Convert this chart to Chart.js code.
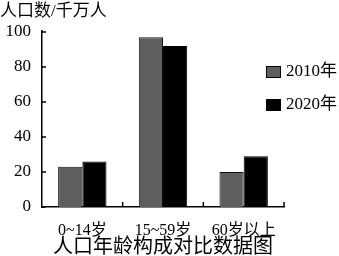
<!DOCTYPE html>
<html>
<head>
<meta charset="utf-8">
<script src="https://cdn.jsdelivr.net/npm/chart.js@4.4.1/dist/chart.umd.min.js"></script>
<style>
  html, body { margin: 0; padding: 0; background: #fff; }
</style>
</head>
<body>
<canvas id="main" width="339" height="256"></canvas>
<script>
const categories = ['0~14岁', '15~59岁', '60岁以上'];
const years = ['2010年', '2020年'];
const pop2010 = [23, 97, 20];
const pop2020 = [26, 92, 29];
const yTicks = [0, 20, 40, 60, 80, 100];

const FONT = "'Times New Roman', 'Liberation Serif', 'Noto Sans CJK SC', serif";

// small inward tick marks on both axes + legend placed inside the plot
const axisDecor = {
  id: 'axisDecor',
  afterDraw(chart) {
    const ctx = chart.ctx;
    const x = chart.scales.x, y = chart.scales.y;
    const area = chart.chartArea;
    ctx.save();
    ctx.strokeStyle = '#000';
    ctx.lineWidth = 1.5;
    ctx.beginPath();
    yTicks.forEach(v => {
      const py = y.getPixelForValue(v);
      ctx.moveTo(area.left, py);
      ctx.lineTo(area.left + 4, py);
    });
    // axis line pokes a little above the top tick
    ctx.moveTo(area.left, area.top);
    ctx.lineTo(area.left, area.top - 2);
    const half = (x.getPixelForValue(1) - x.getPixelForValue(0)) / 2;
    categories.forEach((c, i) => {
      const px = x.getPixelForValue(i) + half;
      ctx.moveTo(px, area.bottom);
      ctx.lineTo(px, area.bottom - 5);
    });
    ctx.stroke();

    // legend
    ctx.font = '17px ' + FONT;
    ctx.textBaseline = 'middle';
    ctx.textAlign = 'left';
    chart.data.datasets.forEach((ds, i) => {
      const bx = 266, by = 66 + i * 33;
      ctx.fillStyle = ds.backgroundColor;
      ctx.fillRect(bx, by, 15, 12);
      ctx.lineWidth = 1;
      ctx.strokeStyle = '#000';
      ctx.strokeRect(bx + 0.5, by + 0.5, 14, 11);
      ctx.fillStyle = '#000';
      ctx.fillText(ds.label, 286, by + 6);
    });
    ctx.restore();
  }
};

new Chart(document.getElementById('main'), {
  type: 'bar',
  data: {
    labels: categories,
    datasets: [
      { label: years[0], data: pop2010, backgroundColor: '#5e5e5e', borderColor: '#111', borderWidth: 1 },
      { label: years[1], data: pop2020, backgroundColor: '#000', borderColor: '#000', borderWidth: 1 }
    ]
  },
  options: {
    responsive: false,
    animation: false,
    layout: { padding: { left: 0, right: 55, top: 0, bottom: 0 } },
    datasets: { bar: { categoryPercentage: 0.6, barPercentage: 1.0 } },
    plugins: {
      legend: { display: false },
      tooltip: { enabled: false },
      subtitle: {
        display: true,
        text: '人口数/千万人',
        position: 'top',
        align: 'start',
        color: '#000',
        font: { family: FONT, size: 17, lineHeight: 1.2 },
        padding: { top: 1, bottom: 10.6 }
      }
    },
    scales: {
      x: {
        grid: { display: false },
        border: { display: true, color: '#000', width: 1.5 },
        ticks: { color: '#000', padding: 6, font: { family: FONT, size: 16 } },
        title: {
          display: true,
          text: '人口年龄构成对比数据图',
          color: '#000',
          font: { family: FONT, size: 20, lineHeight: '16px' },
          padding: { top: 0, bottom: 0 }
        },
        afterFit: s => { s.height = 49; }
      },
      y: {
        min: 0,
        max: 100,
        grid: { display: false },
        border: { display: true, color: '#000', width: 1.5 },
        ticks: { color: '#000', stepSize: 20, padding: 3, font: { family: FONT, size: 17 } },
        afterFit: s => { s.width = 42; }
      }
    }
  },
  plugins: [axisDecor]
});
</script>
</body>
</html>
